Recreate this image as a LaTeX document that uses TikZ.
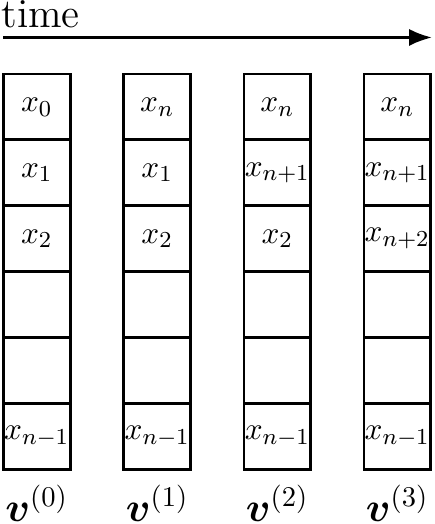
\documentclass[tikz,border=0pt]{standalone}
\usepackage{amsmath}
\usepackage{amssymb}
\usepackage{tikz}
\usetikzlibrary{positioning,arrows.meta}

\tikzset{
  cell/.style={draw,rectangle,line width=1pt,minimum width=0.82cm,minimum height=0.81cm,inner sep=0pt,outer sep=0pt,font=\fontsize{11}{13}\selectfont},
  veclabel/.style={anchor=base,font=\Large,inner sep=0pt}
}

\begin{document}
\begin{tikzpicture}
\useasboundingbox (0,0) rectangle (5.339,6.446);
\node[anchor=south west,inner sep=0pt,font=\Large] (time) at (0.01,6.09) {time};
\coordinate (tstart) at (0.037,5.985);
\coordinate (tend) at (5.314,5.985);
\draw[-{Latex[length=8pt,width=6pt]},line width=1pt] (tstart) -- (tend);

% v^(0)
\node[cell] (a1) at (0.452,5.130) {$x_0$};
\node[cell,below=0pt of a1] (a2) {$x_1$};
\node[cell,below=0pt of a2] (a3) {$x_2$};
\node[cell,below=0pt of a3] (a4) {};
\node[cell,below=0pt of a4] (a5) {};
\node[cell,below=0pt of a5] (a6) {$x_{n-1}$};
\node[veclabel] (v0) at (0.452,0.03) {$\boldsymbol{v}^{(0)}$};

% v^(1)
\node[cell] (b1) at (1.934,5.130) {$x_n$};
\node[cell,below=0pt of b1] (b2) {$x_1$};
\node[cell,below=0pt of b2] (b3) {$x_2$};
\node[cell,below=0pt of b3] (b4) {};
\node[cell,below=0pt of b4] (b5) {};
\node[cell,below=0pt of b5] (b6) {$x_{n-1}$};
\node[veclabel] (v1) at (1.934,0.03) {$\boldsymbol{v}^{(1)}$};

% v^(2)
\node[cell] (c1) at (3.411,5.130) {$x_n$};
\node[cell,below=0pt of c1] (c2) {$x_{n+1}$};
\node[cell,below=0pt of c2] (c3) {$x_2$};
\node[cell,below=0pt of c3] (c4) {};
\node[cell,below=0pt of c4] (c5) {};
\node[cell,below=0pt of c5] (c6) {$x_{n-1}$};
\node[veclabel] (v2) at (3.411,0.03) {$\boldsymbol{v}^{(2)}$};

% v^(3)
\node[cell] (d1) at (4.887,5.130) {$x_n$};
\node[cell,below=0pt of d1] (d2) {$x_{n+1}$};
\node[cell,below=0pt of d2] (d3) {$x_{n+2}$};
\node[cell,below=0pt of d3] (d4) {};
\node[cell,below=0pt of d4] (d5) {};
\node[cell,below=0pt of d5] (d6) {$x_{n-1}$};
\node[veclabel] (v3) at (4.887,0.03) {$\boldsymbol{v}^{(3)}$};
\end{tikzpicture}
\end{document}
